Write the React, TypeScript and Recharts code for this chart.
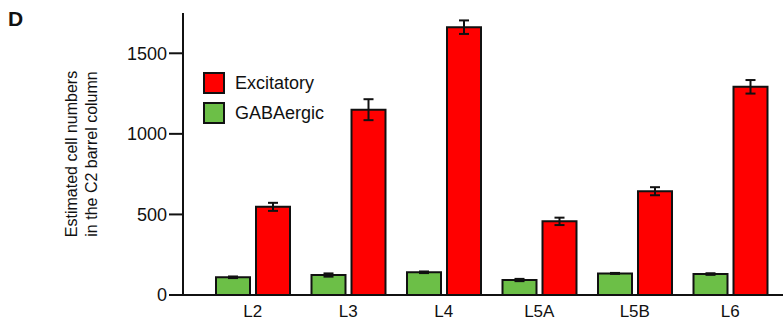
import { BarChart, Bar, XAxis, YAxis, ErrorBar } from "recharts";

const layers = ["L2", "L3", "L4", "L5A", "L5B", "L6"];
const excitatory = [547, 1150, 1662, 457, 644, 1292];
const excitatoryErr = [25, 65, 42, 23, 25, 42];
const gabaergic = [110, 124, 141, 93, 134, 130];
const gabaergicErr = [5, 10, 5, 7, 3, 5];
const yTicks = [0, 500, 1000, 1500];

const RED = "#ff0000";
const GREEN = "#6cbf47";
const FONT = "'Liberation Sans', Arial, Helvetica, sans-serif";

const data = layers.map((layer, i) => ({
  layer,
  exc: excitatory[i],
  excErr: excitatoryErr[i],
  gaba: gabaergic[i],
  gabaErr: gabaergicErr[i],
}));

const legendItems = [
  { name: "Excitatory", color: RED },
  { name: "GABAergic", color: GREEN },
];

// legend sits inside the plot area, top-left
function LegendBox() {
  return (
    <div
      style={{
        position: "absolute",
        left: 203,
        top: 68,
        fontFamily: FONT,
        fontSize: 18,
        color: "#111",
      }}
    >
      {legendItems.map((d) => (
        <div key={d.name} style={{ display: "flex", alignItems: "center", height: 30 }}>
          <div
            style={{
              width: 18,
              height: 18,
              background: d.color,
              border: "2px solid #111",
              marginRight: 10,
            }}
          />
          {d.name}
        </div>
      ))}
    </div>
  );
}

function YTitle() {
  return (
    <text
      transform="translate(80,154) rotate(-90)"
      textAnchor="middle"
      fontFamily={FONT}
      fontSize={16}
      fill="#111"
    >
      <tspan x={0} dy={-3}>Estimated cell numbers</tspan>
      <tspan x={0} dy={20}>in the C2 barrel column</tspan>
    </text>
  );
}

export default function App() {
  return (
    <div style={{ position: "absolute", left: 0, top: 0, width: 783, height: 323, background: "#fff" }}>
      <div
        style={{
          position: "absolute",
          left: 8,
          top: 7,
          fontFamily: FONT,
          fontWeight: "bold",
          fontSize: 21,
          color: "#111",
        }}
      >
        D
      </div>
      <BarChart
        width={783}
        height={323}
        data={data}
        margin={{ top: 13, right: 0, bottom: 0, left: 0 }}
        barGap={6}
        barSize={34}
      >
        <XAxis
          dataKey="layer"
          height={28}
          tickLine={false}
          tickSize={0}
          tickMargin={10}
          padding={{ left: 22, right: 5 }}
          axisLine={{ stroke: "#111", strokeWidth: 2 }}
          tick={{ fill: "#111", fontSize: 17, fontFamily: FONT }}
        />
        <YAxis
          width={183}
          domain={[0, 1750]}
          ticks={yTicks}
          interval={0}
          tickSize={14}
          tickMargin={2}
          axisLine={{ stroke: "#111", strokeWidth: 2 }}
          tickLine={{ stroke: "#111", strokeWidth: 2 }}
          tick={{ fill: "#111", fontSize: 18, fontFamily: FONT }}
          label={{ content: () => <YTitle /> }}
        />
        <Bar dataKey="gaba" fill={GREEN} stroke="#111" strokeWidth={2} isAnimationActive={false}>
          <ErrorBar dataKey="gabaErr" width={5} stroke="#111" strokeWidth={2} />
        </Bar>
        <Bar dataKey="exc" fill={RED} stroke="#111" strokeWidth={2} isAnimationActive={false}>
          <ErrorBar dataKey="excErr" width={5} stroke="#111" strokeWidth={2} />
        </Bar>
      </BarChart>
      <LegendBox />
    </div>
  );
}
